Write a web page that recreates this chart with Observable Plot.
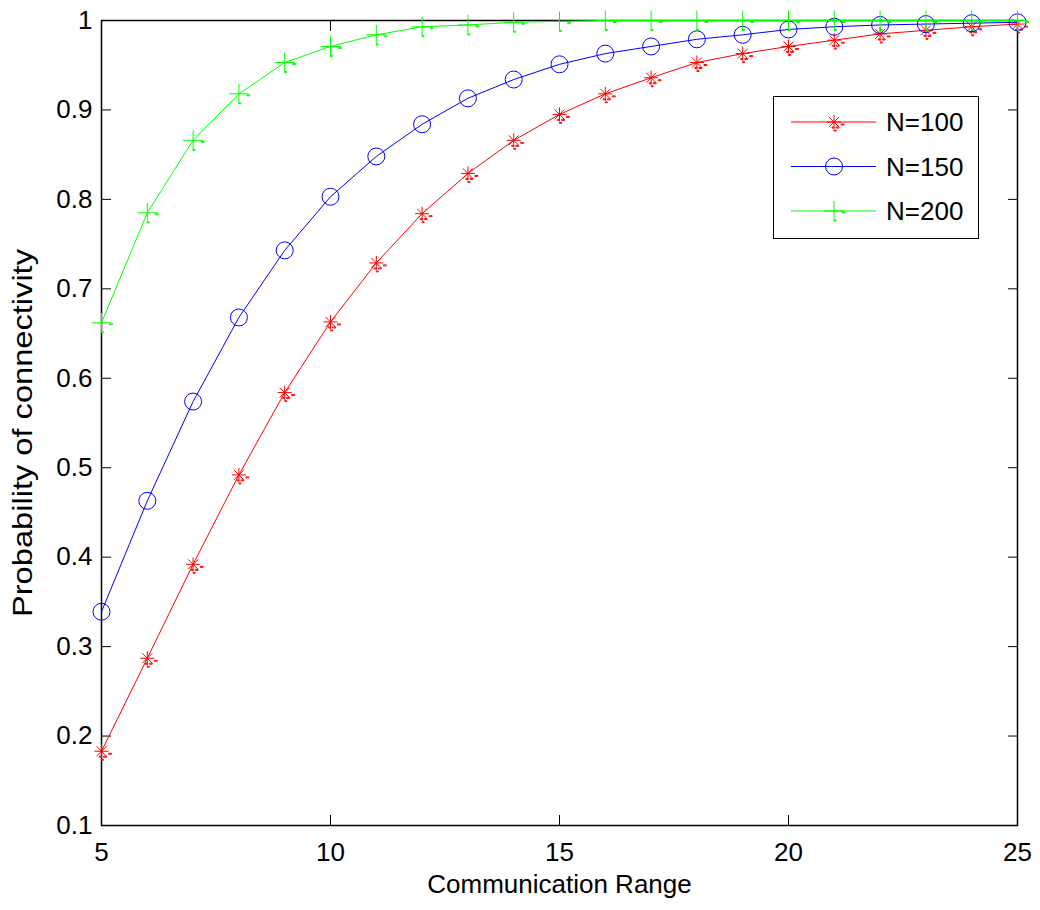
<!DOCTYPE html>
<html>
<head>
<meta charset="utf-8">
<script src="https://cdn.jsdelivr.net/npm/d3@7"></script>
<script src="https://cdn.jsdelivr.net/npm/@observablehq/plot@0.6"></script>
<style>
  html, body { margin: 0; padding: 0; background: #fff; }
  #wrap { position: relative; width: 1040px; height: 910px; font-family: "Liberation Sans", Arial, sans-serif; }
  #legend { position: absolute; left: 773px; top: 96px; width: 204px; height: 141px; border: 1.5px solid #000; background: #fff; }
</style>
</head>
<body>
<div id="wrap"><div id="chart"></div><div id="legend"></div></div>
<script>
// ---- data ----
const range = [5, 6, 7, 8, 9, 10, 11, 12, 13, 14, 15, 16, 17, 18, 19, 20, 21, 22, 23, 24, 25];
const n100 = [0.183, 0.287, 0.392, 0.492, 0.584, 0.663, 0.729, 0.784, 0.829, 0.866, 0.895, 0.918, 0.936, 0.953, 0.963, 0.971, 0.978, 0.985, 0.989, 0.993, 0.996];
const n150 = [0.339, 0.463, 0.574, 0.668, 0.743, 0.803, 0.848, 0.884, 0.913, 0.934, 0.951, 0.963, 0.971, 0.979, 0.984, 0.990, 0.993, 0.995, 0.996, 0.997, 0.998];
const n200 = [0.662, 0.785, 0.866, 0.918, 0.953, 0.971, 0.984, 0.993, 0.995, 0.998, 0.999, 1, 1, 1, 1, 1, 1, 1, 1, 1, 1];
const seriesNames = ["N=100", "N=150", "N=200"];
const seriesColors = ["#ff0000", "#0000ff", "#00ff00"];
const xTicks = [5, 10, 15, 20, 25];
const yTicks = [0.1, 0.2, 0.3, 0.4, 0.5, 0.6, 0.7, 0.8, 0.9, 1];
const yTickLabels = ["0.1", "0.2", "0.3", "0.4", "0.5", "0.6", "0.7", "0.8", "0.9", "1"];
const xLabel = "Communication Range";
const yLabel = "Probability of connectivity";

// ---- symbols (MATLAB-like, with its small rendering dashes) ----
const symAsterisk = {draw(ctx, size) {
  const r = Math.sqrt(size / Math.PI), d = r * Math.SQRT1_2;
  ctx.moveTo(-r, 0); ctx.lineTo(r, 0); ctx.moveTo(0, -r); ctx.lineTo(0, r);
  ctx.moveTo(-d, -d); ctx.lineTo(d, d); ctx.moveTo(-d, d); ctx.lineTo(d, -d);
  ctx.rect(7, 2, 3, 1); ctx.rect(-2, 5, 2, 1); ctx.rect(2, 5, 3, 1); ctx.rect(0, 8, 2, 1);
}};
const symPlus = {draw(ctx, size) {
  const r = Math.sqrt(size / Math.PI);
  ctx.moveTo(-r, 0); ctx.lineTo(r, 0); ctx.moveTo(0, -r); ctx.lineTo(0, r);
  ctx.rect(8, 1, 3, 1); ctx.rect(0, 9, 2, 1);
}};
const symCircle = {draw(ctx, size) {
  const r = Math.sqrt(size / Math.PI);
  ctx.moveTo(r, 0); ctx.arc(0, 0, r, 0, 2 * Math.PI);
}};
const seriesSymbols = [symAsterisk, symCircle, symPlus];
const seriesR = [7, 8.5, 10];

const seriesValues = [n100, n150, n200];
const table = seriesValues.map((vals, s) => range.map((x, i) => ({x, y: vals[i], s})));

const marks = [
  Plot.frame({stroke: "#000", strokeWidth: 1.5}),
  Plot.axisX(xTicks, {anchor: "bottom", tickSize: -10, tickPadding: 27, label: null, tickFormat: d => String(d)}),
  Plot.axisX(xTicks, {anchor: "top", tickSize: -10, tickFormat: () => "", label: null}),
  Plot.axisY(yTicks, {anchor: "left", tickSize: -10, tickPadding: 19, label: null, tickFormat: d => yTickLabels[yTicks.indexOf(d)]}),
  Plot.axisY(yTicks, {anchor: "right", tickSize: -10, tickFormat: () => "", label: null}),
  Plot.text([xLabel], {frameAnchor: "bottom", dy: 67, text: d => d, fontSize: 26, className: "xlab"}),
  Plot.text([yLabel], {frameAnchor: "left", textAnchor: "middle", dx: -78, dy: 10, rotate: -90, text: d => d, fontSize: 28, className: "ylab"})
];
table.forEach((rows, s) => {
  marks.push(Plot.line(rows, {x: "x", y: "y", stroke: seriesColors[s], strokeWidth: 1}));
  marks.push(Plot.dot(rows, {x: "x", y: "y", stroke: seriesColors[s], fill: "none", strokeWidth: 1, symbol: seriesSymbols[s], r: seriesR[s]}));
});

const chart = Plot.plot({
  width: 1040, height: 910,
  marginLeft: 101, marginRight: 23, marginTop: 20, marginBottom: 85,
  x: {domain: [5, 25]},
  y: {domain: [0.1, 1]},
  style: {fontFamily: "'Liberation Sans', Arial, sans-serif", fontSize: "26px", color: "#000", background: "#fff", overflow: "visible"},
  marks
});
document.getElementById("chart").appendChild(chart);
// the reference is stretched vertically: lengthen the rotated label to match
d3.select(chart).selectAll(".ylab text").attr("textLength", 368).attr("lengthAdjust", "spacingAndGlyphs");

// ---- legend ----
const lg = d3.select("#legend").append("svg").attr("width", 204).attr("height", 141)
  .style("font-family", "'Liberation Sans', Arial, sans-serif");
seriesNames.forEach((name, s) => {
  const cy = 25 + s * 44.5;
  const g = lg.append("g").attr("transform", `translate(0,${cy})`);
  g.append("line").attr("x1", 17).attr("x2", 102).attr("y1", 0).attr("y2", 0).attr("stroke", seriesColors[s]);
  g.append("path").attr("transform", "translate(60,0)")
    .attr("d", d3.symbol(seriesSymbols[s], Math.PI * seriesR[s] ** 2)())
    .attr("fill", "none").attr("stroke", seriesColors[s]);
  g.append("text").attr("x", 112).attr("y", 0).attr("dy", "0.35em").attr("font-size", 26).text(name);
});
</script>
</body>
</html>
